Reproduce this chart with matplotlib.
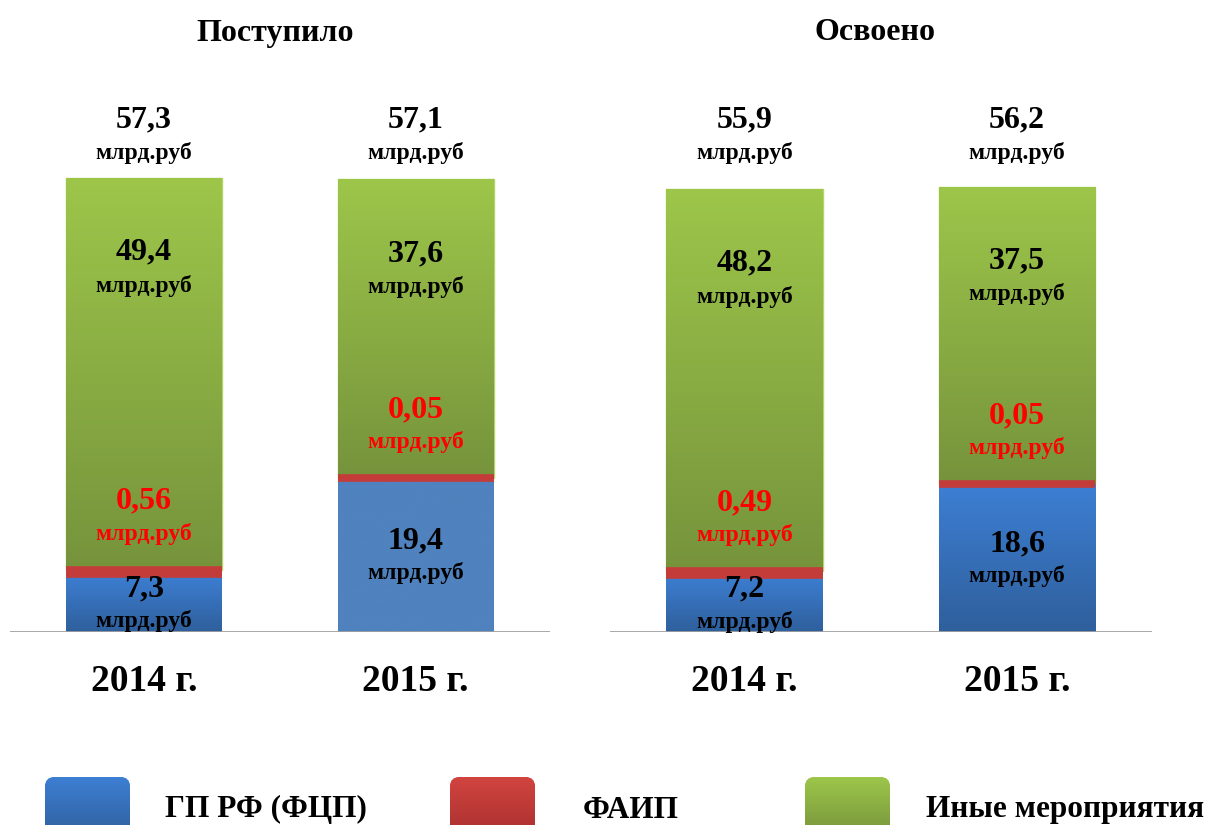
import numpy as np
import matplotlib
matplotlib.use('Agg')
from matplotlib import pyplot as plt
from matplotlib.colors import LinearSegmentedColormap
from matplotlib.patches import FancyBboxPatch, Rectangle

plt.rcParams['font.family'] = ['Liberation Serif', 'DejaVu Serif']
plt.rcParams['font.weight'] = 'bold'

# данные
panels = ['Поступило', 'Освоено']
years = ['2014 г.', '2015 г.']
gp_rf = [[7.3, 19.4], [7.2, 18.6]]
faip = [[0.56, 0.05], [0.49, 0.05]]
other = [[49.4, 37.6], [48.2, 37.5]]
totals = [[57.3, 57.1], [55.9, 56.2]]
legend_labels = ['ГП РФ (ФЦП)', 'ФАИП', 'Иные мероприятия']
unit = 'млрд.руб'

# цвета (верх, низ) градиента
blue_grad = [[('#3d7fd3', '#2f5f9c'), ('#4f82be', '#4f82be')],
             [('#3d7fd3', '#2f5f9c'), ('#3d7fd3', '#2f5f9c')]]
green_grad = ('#9dc64a', '#76933c')
red_grad = ('#d24440', '#a8302e')


def fmt(v):
    return ('%g' % v).replace('.', ',')


def fill_gradient(ax, patch, top, bottom):
    '''
    @brief  закрасить прямоугольник вертикальным градиентом
    '''
    cmap = LinearSegmentedColormap.from_list('g', [bottom, top])
    x0, y0 = patch.get_x(), patch.get_y()
    w, h = patch.get_width(), patch.get_height()
    img = np.linspace(0, 1, 256).reshape(-1, 1)
    im = ax.imshow(img, extent=[x0, x0 + w, y0, y0 + h], origin='lower',
                   cmap=cmap, aspect='auto', zorder=patch.get_zorder() + 0.1)
    im.set_clip_path(patch)


def label(ax, x, y, num, color, dy_num, dy_unit):
    ax.text(x, y + dy_num, num, ha='center', va='center', fontsize=23,
            color=color, zorder=10)
    ax.text(x, y + dy_unit, unit, ha='center', va='center', fontsize=17,
            color=color, zorder=10)


fig = plt.figure(figsize=(12.15, 8.25), dpi=100)
axes_rect = [[10 / 1215, 0.234, 540 / 1215, 0.673],
             [610 / 1215, 0.234, 542 / 1215, 0.673]]
title_x = [275 / 1215, 875 / 1215]

x = np.arange(len(years))
width = 0.574

for i in range(len(panels)):
    ax = fig.add_axes(axes_rect[i])
    blue = np.array(gp_rf[i])
    red = np.array(faip[i])
    green = np.array(other[i])

    bb = ax.bar(x, blue, width, color='#3d7fd3', linewidth=0, zorder=2)
    gb = ax.bar(x, green, width, bottom=blue + red, color=green_grad[1],
                edgecolor='#b4d46c', linewidth=1, zorder=2)
    rb = ax.bar(x, red, width, bottom=blue, color=red_grad[0],
                edgecolor='#c43c3a', linewidth=5.5, zorder=3)
    for j, p in enumerate(bb):
        fill_gradient(ax, p, *blue_grad[i][j])
    for p in gb:
        fill_gradient(ax, p, *green_grad)
    # тонкий сегмент ФАИП утолщаем обводкой, но не шире столбца
    for p in rb:
        clip = Rectangle((p.get_x(), -10), p.get_width(), 100,
                         transform=ax.transData)
        p.set_clip_path(clip)

    for j in range(len(years)):
        label(ax, x[j], blue[j] / 2, fmt(blue[j]), 'black', 1.8, -2.3)
        top_red = blue[j] + red[j]
        label(ax, x[j], top_red, fmt(red[j]), '#ff0000', 8.6, 4.5)
        top = top_red + green[j]
        label(ax, x[j], top, fmt(green[j]), 'black', -9.4, -13.6)
        label(ax, x[j], 0, fmt(totals[i][j]), 'black', 64.5, 60.4)

    ax.axhline(0, color='#a0a0a0', linewidth=2, zorder=5)
    ax.set_xlim(-0.493, 1.495)
    ax.set_ylim(0, 70)
    ax.set_yticks([])
    ax.set_xticks(x, years, fontsize=27)
    ax.tick_params(axis='x', length=0, pad=23)
    for s in ax.spines.values():
        s.set_visible(False)

    fig.text(title_x[i], 1 - 33 / 825, panels[i], ha='center', va='center',
             fontsize=23)

# легенда: отдельные оси в пикселях фигуры
lax = fig.add_axes([0, 0, 1, 1])
lax.set_xlim(0, 1215)
lax.set_ylim(0, 825)
lax.axis('off')
legend_colors = [('#3d7fd3', '#2f5f9c'), red_grad, green_grad]
box_x = [45, 450, 805]
text_x = [165, 583, 926]
text_y = [16, 15, 15]
for k in range(len(legend_labels)):
    top, bottom = legend_colors[k]
    box = FancyBboxPatch((box_x[k], -12), 85, 60,
                         boxstyle='round,pad=0,rounding_size=10',
                         facecolor=top, edgecolor='none')
    lax.add_patch(box)
    cmap = LinearSegmentedColormap.from_list('l', [bottom, top])
    img = np.linspace(0, 1, 256).reshape(-1, 1)
    im = lax.imshow(img, extent=[box_x[k], box_x[k] + 85, -12, 48],
                    origin='lower', cmap=cmap, aspect='auto', zorder=3)
    im.set_clip_path(box)
    lax.text(text_x[k], text_y[k], legend_labels[k], ha='left', va='center',
             fontsize=22.5)
lax.set_xlim(0, 1215)
lax.set_ylim(0, 825)

fig.savefig('out.png', dpi=100)
